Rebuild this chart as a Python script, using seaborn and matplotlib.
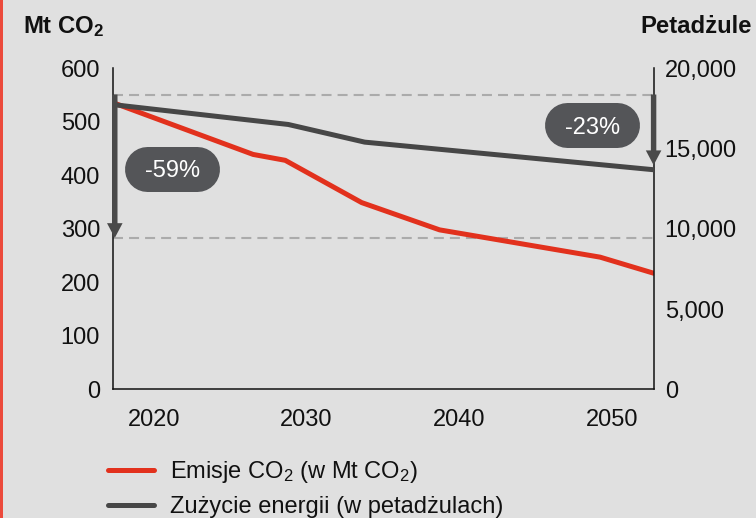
import matplotlib
matplotlib.use("Agg")
import matplotlib.pyplot as plt
import matplotlib.transforms as mtransforms
from matplotlib.patches import FancyArrowPatch, Rectangle
from matplotlib.lines import Line2D
import pandas as pd
import seaborn as sns

# CO2 emissions (Mt CO2)
emission_years = [2017.5, 2026.5, 2028.6, 2033.6, 2038.7, 2049.2, 2052.7]
emission_values = [534, 439, 428, 349, 298, 247, 217]

# Energy consumption (petajoules)
energy_years = [2017.5, 2028.8, 2033.8, 2052.7]
energy_values = [17720, 16500, 15400, 13680]

x_ticks = [2020, 2030, 2040, 2050]
left_ticks = [0, 100, 200, 300, 400, 500, 600]
right_ticks = [0, 5000, 10000, 15000, 20000]
right_tick_labels = ["0", "5,000", "10,000", "15,000", "20,000"]

emission_label = r"Emisje CO$_2$ (w Mt CO$_2$)"
energy_label = "Zużycie energii (w petadżulach)"
left_title = r"Mt CO$_2$"
right_title = "Petadżule"

# change callouts: text, centre (year, Mt CO2)
emission_change = ("-59%", 2021.2, 412)
energy_change = ("-23%", 2048.7, 494)

# reference levels (Mt CO2 scale) and drop arrows (x, start, end)
ref_levels = [551, 283]
emission_arrow = (2017.45, 551, 283)
energy_arrow = (2052.7, 551, 419)

BG = "#e0e0e0"
RED = "#e2311d"
DARK = "#474747"
PILL = "#545558"
ARROW = "#4a4a4a"
BORDER = "#ec4a3c"
TXT = "#111111"
FS = 17

sns.set_style("white")
plt.rcParams["font.family"] = ["Liberation Sans", "DejaVu Sans"]
plt.rcParams["mathtext.fontset"] = "custom"
plt.rcParams["mathtext.rm"] = "Liberation Sans"
plt.rcParams["mathtext.bf"] = "Liberation Sans:bold"
plt.rcParams["mathtext.default"] = "regular"

W, H = 756, 518
fig = plt.figure(figsize=(W / 100, H / 100), dpi=100, facecolor=BG)
ax = fig.add_axes([112.5 / W, 1 - 389.3 / H, (653.6 - 112.5) / W, (389.3 - 68.3) / H])
ax.set_facecolor(BG)
ax2 = ax.twinx()

# reference dashed levels
for lvl in ref_levels:
    ax.axhline(lvl, color="#ababab", lw=1.5, ls=(0, (4.8, 2.9)), zorder=1)

emis_df = pd.DataFrame({"year": emission_years, "value": emission_values})
energy_df = pd.DataFrame({"year": energy_years, "value": energy_values})

sns.lineplot(data=emis_df, x="year", y="value", ax=ax, color=RED, lw=3.6,
             label=emission_label, zorder=3)
sns.lineplot(data=energy_df, x="year", y="value", ax=ax2, color=DARK, lw=3.6,
             label=energy_label, zorder=3)

h1, l1 = ax.get_legend_handles_labels()
h2, l2 = ax2.get_legend_handles_labels()
for a in (ax, ax2):
    if a.get_legend() is not None:
        a.get_legend().remove()

# axes limits and ticks
ax.set_xlim(2017.3, 2052.7)
ax.set_ylim(0, 600)
ax2.set_ylim(0, 20000)
ax.set_xticks(x_ticks)
ax.set_xticklabels([str(t) for t in x_ticks])
ax.set_yticks(left_ticks)
ax2.set_yticks(right_ticks)
ax2.set_yticklabels(right_tick_labels)
ax.set_xlabel("")
ax.set_ylabel("")
ax2.set_ylabel("")
ax.tick_params(axis="y", length=0, pad=9, labelsize=FS, labelcolor=TXT)
ax.tick_params(axis="x", length=0, pad=14, labelsize=FS, labelcolor=TXT)
ax2.tick_params(axis="y", length=0, pad=8, labelsize=FS, labelcolor=TXT)

for a in (ax, ax2):
    for s in a.spines.values():
        s.set_linewidth(1.1)
        s.set_color("#111111")
    a.spines["top"].set_visible(False)
ax.spines["right"].set_visible(False)
ax2.spines["left"].set_visible(False)
ax2.spines["bottom"].set_visible(False)
ax.grid(False)
ax2.grid(False)


def drop_arrow(x, y0, y1):
    arr = FancyArrowPatch((x, y0), (x, y1), transform=ax.transData,
                          arrowstyle="simple,head_length=10.6,head_width=11.2,tail_width=3.9",
                          mutation_scale=1, fc=ARROW, ec="none", lw=0,
                          shrinkA=0, shrinkB=0, clip_on=False, zorder=5)
    ax2.add_artist(arr)


def pill(text, cx, cy, w=0.95, h=0.45):
    # a capsule: a thick segment with round caps, sized in inches around the anchor
    trans = fig.dpi_scale_trans + mtransforms.ScaledTranslation(cx, cy, ax.transData)
    half = (w - h) / 2
    cap = Line2D([-half, half], [0, 0], transform=trans, color=PILL,
                 lw=h * 72, solid_capstyle="round", zorder=6, clip_on=False)
    ax2.add_artist(cap)
    ttrans = ax.transData + mtransforms.ScaledTranslation(0, -0.085, fig.dpi_scale_trans)
    ax2.text(cx, cy, text, transform=ttrans, ha="center", va="baseline",
             color="white", fontsize=FS, zorder=7, clip_on=False)


drop_arrow(*emission_arrow)
drop_arrow(*energy_arrow)
pill(*emission_change)
pill(*energy_change)

# axis titles
fig.text(22.7 / W, 1 - 32.7 / H, left_title, fontsize=17.2, fontweight="bold",
         ha="left", va="baseline", color=TXT)
fig.text(751.7 / W, 1 - 33 / H, right_title, fontsize=17.2, fontweight="bold",
         ha="right", va="baseline", color=TXT)

# legend
fig.legend(h1 + h2, l1 + l2, loc="upper left", bbox_to_anchor=(108 / W, 1 - 459 / H),
           frameon=False, fontsize=FS, handlelength=1.95, handletextpad=0.68,
           labelspacing=0.46, borderpad=0, borderaxespad=0, labelcolor=TXT)

# accent border on the left edge
fig.add_artist(Rectangle((0, 0), 2.5 / W, 1, transform=fig.transFigure,
                         fc=BORDER, ec="none"))

fig.savefig("out.png", dpi=100, facecolor=BG)
